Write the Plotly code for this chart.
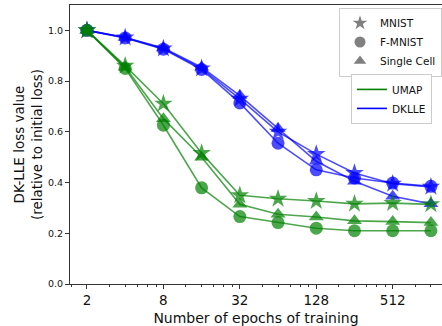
import math
import plotly.graph_objects as go

epochs = [2, 4, 8, 16, 32, 64, 128, 256, 512, 1024]

umap_mnist = [1.0, 0.86, 0.711, 0.516, 0.35, 0.336, 0.327, 0.316, 0.319, 0.314]
umap_fmnist = [1.0, 0.85, 0.626, 0.379, 0.266, 0.242, 0.22, 0.21, 0.21, 0.21]
umap_single = [1.0, 0.855, 0.652, 0.50, 0.314, 0.275, 0.264, 0.249, 0.246, 0.242]

dklle_mnist = [1.0, 0.972, 0.928, 0.85, 0.73, 0.60, 0.512, 0.4375, 0.395, 0.383]
dklle_fmnist = [1.0, 0.970, 0.926, 0.846, 0.714, 0.555, 0.45, 0.418, 0.398, 0.385]
dklle_single = [1.0, 0.972, 0.93, 0.855, 0.743, 0.613, 0.484, 0.405, 0.346, 0.316]

x_tick_vals = [2, 8, 32, 128, 512]
x_tick_text = ["2", "8", "32", "128", "512"]
x_minor_vals = [1.5, 3, 4, 5, 6, 7, 12, 16, 20, 24, 28, 48, 64, 80, 96, 112,
                192, 256, 320, 384, 448, 768, 1024]
y_tick_vals = [0.0, 0.2, 0.4, 0.6, 0.8, 1.0]

datasets = ["MNIST", "F-MNIST", "Single Cell"]
symbols = {"MNIST": "star", "F-MNIST": "circle", "Single Cell": "triangle-up"}
sizes = {"MNIST": 14, "F-MNIST": 13, "Single Cell": 13}

methods = [
    ("DKLLE", "rgba(0,0,255,0.7)", "rgb(0,0,255)",
     {"MNIST": dklle_mnist, "F-MNIST": dklle_fmnist, "Single Cell": dklle_single}),
    ("UMAP", "rgba(0,128,0,0.7)", "rgb(0,128,0)",
     {"MNIST": umap_mnist, "F-MNIST": umap_fmnist, "Single Cell": umap_single}),
]

fig = go.Figure()

for name, col, _, series in methods:
    for ds in datasets:
        fig.add_trace(go.Scatter(
            x=epochs, y=series[ds], mode="lines+markers",
            line=dict(color=col, width=1.6),
            marker=dict(symbol=symbols[ds], size=sizes[ds], color=col,
                        line=dict(width=0)),
            showlegend=False, name=f"{name} {ds}",
        ))

# Legend 1: datasets (markers)
for ds in datasets:
    fig.add_trace(go.Scatter(
        x=[None], y=[None], mode="markers", name=ds,
        marker=dict(symbol=symbols[ds], size=11, color="grey"),
        legend="legend",
    ))
# Legend 2: methods (lines)
for name, _, solid, _ in [methods[1], methods[0]]:
    fig.add_trace(go.Scatter(
        x=[None], y=[None], mode="lines", name=name,
        line=dict(color=solid, width=1.6),
        legend="legend2",
    ))

font_family = "DejaVu Sans"
xmin = math.log10(2 ** 0.556)
xmax = math.log10(2 ** 10.29)

fig.update_layout(
    width=442, height=326,
    margin=dict(l=70, r=0, t=5, b=39),
    paper_bgcolor="white", plot_bgcolor="white",
    font=dict(family=font_family, color="#111"),
    xaxis=dict(
        type="log", range=[xmin, xmax],
        tickmode="array", tickvals=x_tick_vals, ticktext=x_tick_text,
        ticks="outside", ticklen=4, tickwidth=1, tickcolor="#333",
        tickfont=dict(size=13.5, family=font_family),
        minor=dict(tickvals=x_minor_vals, ticks="outside", ticklen=2,
                   tickwidth=0.8, tickcolor="#333"),
        showline=True, linecolor="#333", linewidth=1, mirror=True,
        showgrid=False, zeroline=False,
        title=dict(text="Number of epochs of training",
                   font=dict(size=14, family=font_family), standoff=8),
    ),
    yaxis=dict(
        range=[0, 1.1],
        tickmode="array", tickvals=y_tick_vals, tickformat=".1f",
        ticks="outside", ticklen=4, tickwidth=1, tickcolor="#333",
        tickfont=dict(size=9.5, family=font_family),
        showline=True, linecolor="#333", linewidth=1, mirror=False,
        showgrid=False, zeroline=False,
        title=dict(text="DK-LLE loss value<br>(relative to initial loss)",
                   font=dict(size=13.5, family=font_family), standoff=2),
    ),
    legend=dict(
        x=1.0, y=0.991, xanchor="right", yanchor="top",
        bgcolor="white", bordercolor="#cccccc", borderwidth=1,
        font=dict(size=10.5, family=font_family),
        tracegroupgap=0, itemwidth=30,
    ),
    legend2=dict(
        x=0.973, y=0.753, xanchor="right", yanchor="top",
        bgcolor="white", bordercolor="#cccccc", borderwidth=1,
        font=dict(size=10.5, family=font_family),
        tracegroupgap=0, itemwidth=30,
    ),
)

fig.write_html(
    "out.html",
    config={"displayModeBar": False},
    post_script="document.body.style.margin='0';document.body.style.overflow='hidden';",
)
